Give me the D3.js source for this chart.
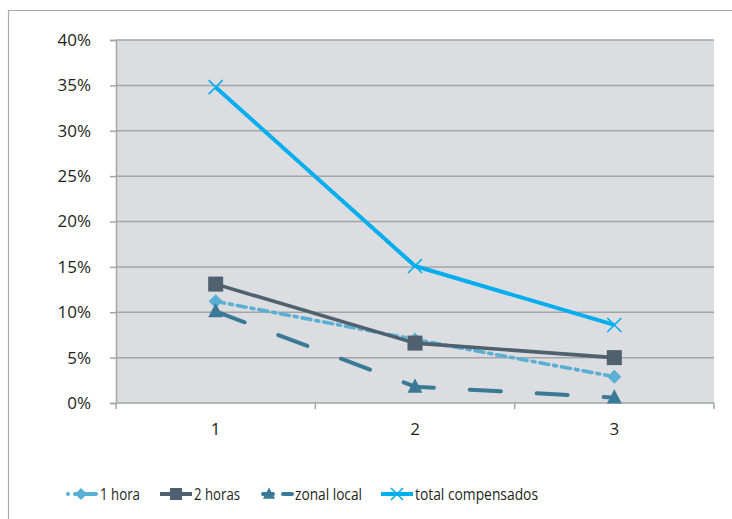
<!DOCTYPE html>
<html>
<head>
<meta charset="utf-8">
<script src="https://cdn.jsdelivr.net/npm/d3@7"></script>
<style>
  html, body { margin: 0; padding: 0; background: #fff; }
  svg { display: block; font-family: "Open Sans", "Noto Sans", sans-serif; }
</style>
</head>
<body>
<svg id="chart" width="732" height="519"></svg>
<script>
// Categories along the x axis
const categories = ["1", "2", "3"];

// Series values (fractions)
const seriesNames = ["1 hora", "2 horas", "zonal local", "total compensados"];
const hora1 = [0.112, 0.070, 0.029];
const horas2 = [0.131, 0.066, 0.050];
const zonalLocal = [0.101, 0.018, 0.006];
const totalCompensados = [0.348, 0.151, 0.086];

// Y axis ticks
const yTicks = [0, 0.05, 0.10, 0.15, 0.20, 0.25, 0.30, 0.35, 0.40];

const series = [
  { name: seriesNames[0], values: hora1, color: "#5aafd5", width: 3.6, dash: "9,5,3,5", marker: "diamond" },
  { name: seriesNames[1], values: horas2, color: "#4f616e", width: 3.6, dash: null, marker: "square" },
  { name: seriesNames[2], values: zonalLocal, color: "#3a7a96", width: 4, dash: "31,36", marker: "triangle" },
  { name: seriesNames[3], values: totalCompensados, color: "#00aeef", width: 4, dash: null, marker: "x" }
];

const svg = d3.select("#chart");
const plot = { left: 116, right: 714, top: 40, bottom: 403 };

// Outer frame
svg.append("path")
  .attr("d", "M8.5,560 L8.5,10.5 L760,10.5")
  .attr("fill", "none").attr("stroke", "#a9a9a9").attr("stroke-width", 1.2);

const x = d3.scaleBand().domain(categories).range([plot.left, plot.right]).padding(0);
const y = d3.scaleLinear().domain([0, 0.40]).range([plot.bottom, plot.top]);

// Plot background
svg.append("rect")
  .attr("x", plot.left).attr("y", plot.top)
  .attr("width", plot.right - plot.left).attr("height", plot.bottom - plot.top)
  .attr("fill", "#dcdde0");

// Horizontal gridlines
svg.append("g").selectAll("line").data(yTicks.slice(1)).join("line")
  .attr("x1", plot.left).attr("x2", plot.right)
  .attr("y1", d => y(d)).attr("y2", d => y(d))
  .attr("stroke", "#a5a5a7").attr("stroke-width", 1.5);

// Y axis
const yAxis = d3.axisLeft(y).tickValues(yTicks).tickSize(6).tickPadding(19)
  .tickFormat(d => Math.round(d * 100) + "%");
const gy = svg.append("g").attr("transform", `translate(${plot.left},0)`).call(yAxis);
gy.select(".domain").attr("stroke", "#a5a5a7").attr("stroke-width", 1.5);
gy.selectAll(".tick line").attr("stroke", "#a5a5a7").attr("stroke-width", 1.5);
gy.selectAll(".tick text").attr("fill", "#231f20").attr("font-size", 17)
  .attr("font-family", "'Open Sans', sans-serif");

// X axis: labels at band centres, ticks at band boundaries
const gx = svg.append("g").attr("transform", `translate(0,${plot.bottom})`);
gx.append("line").attr("x1", plot.left).attr("x2", plot.right)
  .attr("stroke", "#a5a5a7").attr("stroke-width", 1.5);
const boundaries = categories.map(c => x(c)).concat([x(categories[categories.length - 1]) + x.bandwidth()]);
gx.selectAll("line.tk").data(boundaries).join("line").attr("class", "tk")
  .attr("x1", d => d).attr("x2", d => d).attr("y1", 0).attr("y2", 6)
  .attr("stroke", "#a5a5a7").attr("stroke-width", 1.5);
gx.selectAll("text").data(categories).join("text")
  .attr("x", d => x(d) + x.bandwidth() / 2).attr("y", 32)
  .attr("text-anchor", "middle").attr("fill", "#231f20").attr("font-size", 17)
  .text(d => d);

const cx = i => x(categories[i]) + x.bandwidth() / 2;

function drawMarker(g, type, color, px, py, s) {
  if (type === "diamond") {
    g.append("path").attr("d", `M${px},${py - s}L${px + s},${py}L${px},${py + s}L${px - s},${py}Z`).attr("fill", color);
  } else if (type === "square") {
    g.append("rect").attr("x", px - s).attr("y", py - s).attr("width", 2 * s).attr("height", 2 * s)
      .attr("fill", color);
  } else if (type === "triangle") {
    g.append("path").attr("d", `M${px},${py - s * 1.1}L${px + s},${py + s * 0.8}L${px - s},${py + s * 0.8}Z`).attr("fill", color);
  } else if (type === "x") {
    g.append("path").attr("d", `M${px - s},${py - s}L${px + s},${py + s}M${px - s},${py + s}L${px + s},${py - s}`)
      .attr("stroke", color).attr("stroke-width", 1.6).attr("fill", "none");
  }
}
const markerSize = { diamond: 7, square: 7.5, triangle: 7.5, x: 7 };

// Lines and markers
const line = d3.line().x((d, i) => cx(i)).y(d => y(d));
series.forEach(s => {
  const g = svg.append("g");
  g.append("path").datum(s.values).attr("d", line)
    .attr("fill", "none").attr("stroke", s.color).attr("stroke-width", s.width)
    .attr("stroke-linecap", s.dash ? "round" : "butt").attr("stroke-linejoin", "round")
    .attr("stroke-dasharray", s.dash);
  s.values.forEach((v, i) => drawMarker(g, s.marker, s.color, cx(i), y(v), markerSize[s.marker]));
});

// Legend
const legendY = 494;
const legendX = [65, 160, 261, 381];
const legendTextWidth = [40, 46, 67, 123];
series.forEach((s, i) => {
  const g = svg.append("g").attr("transform", `translate(${legendX[i]},${legendY})`);
  if (s.marker === "diamond") {
    g.append("circle").attr("cx", 3).attr("cy", 0).attr("r", 2).attr("fill", s.color);
    g.append("line").attr("x1", 10).attr("x2", 31).attr("y1", 0).attr("y2", 0)
      .attr("stroke", s.color).attr("stroke-width", 4).attr("stroke-linecap", "round");
    drawMarker(g, s.marker, s.color, 16, 0, 6);
  } else if (s.marker === "triangle") {
    g.append("line").attr("x1", 2).attr("x2", 12).attr("y1", 0).attr("y2", 0)
      .attr("stroke", s.color).attr("stroke-width", 4).attr("stroke-linecap", "round");
    g.append("line").attr("x1", 22).attr("x2", 31).attr("y1", 0).attr("y2", 0)
      .attr("stroke", s.color).attr("stroke-width", 4).attr("stroke-linecap", "round");
    drawMarker(g, s.marker, s.color, 8, 0, 6);
  } else {
    g.append("line").attr("x1", 0).attr("x2", 32).attr("y1", 0).attr("y2", 0)
      .attr("stroke", s.color).attr("stroke-width", 4);
    drawMarker(g, s.marker, s.color, 16, 0, 6);
  }
  g.append("text").attr("x", i === 0 ? 35 : 34).attr("y", 6).attr("fill", "#231f20")
    .attr("font-size", 17).attr("textLength", legendTextWidth[i])
    .attr("lengthAdjust", "spacingAndGlyphs").text(s.name);
});
</script>
</body>
</html>
